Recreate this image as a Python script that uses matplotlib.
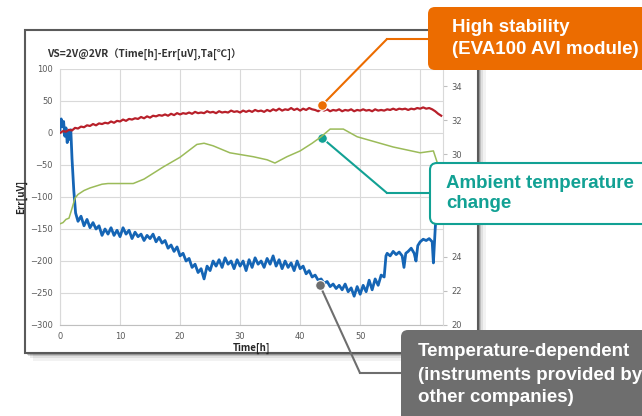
import numpy as np
import matplotlib
matplotlib.use("Agg")
import matplotlib.pyplot as plt
from matplotlib.patches import FancyBboxPatch, Rectangle
from matplotlib.lines import Line2D

W, H = 642, 416

# --- data ----------------------------------------------------------------
# temperature-dependent instrument (blue), Err[uV]
blue_t = [0.0, 0.2, 0.4, 0.6, 0.8, 1.0, 1.2, 1.4, 1.6, 1.8, 2.0, 2.3, 2.6, 3.0,
          3.5, 4.0, 4.5, 5.0, 5.5, 6.0, 6.5, 7.0, 7.5, 8.0, 8.5, 9.0, 9.5, 10.0,
          10.5, 11.0, 11.5, 12.0, 12.5, 13.0, 13.5, 14.0, 14.5, 15.0, 15.5, 16.0,
          16.5, 17.0, 17.5, 18.0, 18.5, 19.0, 19.5, 20.0, 20.5, 21.0, 21.5, 22.0,
          22.5, 23.0, 23.5, 24.0, 24.5, 25.0, 25.5, 26.0, 26.5, 27.0, 27.5, 28.0,
          28.5, 29.0, 29.5, 30.0, 30.5, 31.0, 31.5, 32.0, 32.5, 33.0, 33.5, 34.0,
          34.5, 35.0, 35.5, 36.0, 36.5, 37.0, 37.5, 38.0, 38.5, 39.0, 39.5, 40.0,
          40.5, 41.0, 41.5, 42.0, 42.5, 43.0, 43.5, 44.0, 44.5, 45.0, 45.5, 46.0,
          46.5, 47.0, 47.5, 48.0, 48.5, 49.0, 49.5, 50.0, 50.5, 51.0, 51.5, 52.0,
          52.5, 53.0, 53.5, 54.0, 54.3, 54.5, 55.0, 55.5, 56.0, 56.5, 57.0, 57.3,
          57.6, 58.0, 58.5, 59.0, 59.3, 59.6, 60.0, 60.5, 61.0, 61.5, 62.0, 62.2,
          62.5, 62.8]
blue_err = [5, 22, 10, 18, -5, 8, -15, 2, -10, 5, -40, -90, -125, -138,
            -130, -145, -135, -148, -140, -150, -145, -160, -150, -158, -148, -160, -152, -162,
            -148, -158, -152, -165, -155, -162, -158, -168, -160, -165, -158, -170,
            -163, -172, -168, -180, -175, -185, -178, -192, -188, -200, -196, -210,
            -205, -218, -212, -228, -208, -215, -200, -208, -198, -210, -195, -205,
            -200, -212, -198, -208, -200, -215, -198, -210, -195, -205, -200, -210,
            -196, -205, -192, -208, -198, -212, -200, -210, -203, -215, -200, -212,
            -208, -220, -215, -225, -222, -230, -228, -235, -232, -240, -236, -243,
            -238, -245, -236, -248, -242, -255, -240, -252, -238, -248, -230, -245,
            -228, -238, -222, -225, -192, -188, -192, -185, -190, -186, -192, -210,
            -188, -185, -180, -188, -200, -176, -170, -166, -168, -165, -170, -203,
            -150, -110]

# EVA100 AVI module (red), Err[uV]
red_t = [i * 0.5 for i in range(128)]
red_err = [0, 3, 2, 5, 4, 8, 7, 10, 9, 12, 11, 14, 12, 15, 14, 16, 15, 18, 16, 19,
           18, 21, 19, 22, 21, 23, 22, 25, 23, 26, 24, 27, 26, 28, 27, 29, 27, 30, 28, 31,
           29, 31, 30, 32, 30, 33, 31, 32, 31, 34, 32, 33, 31, 34, 32, 33, 32, 35, 33, 34,
           32, 35, 33, 35, 33, 36, 34, 35, 33, 36, 34, 37, 35, 38, 35, 37, 36, 39, 36, 38,
           35, 38, 36, 39, 37, 36, 34, 37, 35, 37, 34, 36, 35, 37, 34, 36, 35, 37, 34, 36,
           35, 37, 35, 36, 34, 37, 35, 36, 35, 37, 36, 38, 36, 38, 37, 38, 36, 38, 37, 39,
           38, 40, 38, 39, 37, 34, 30, 27]

# ambient temperature (green), Ta[degC]
ta_t = [0, 0.5, 1, 1.5, 2, 2.5, 3, 4, 5, 6, 7, 8, 12.2, 14, 17.2, 20, 22.8, 24,
        25.5, 28.3, 32.2, 34.5, 35.8, 37.8, 40, 42, 43.5, 45, 47.2, 49.5, 55.5,
        60, 62.2, 62.8, 63.3]
ta = [25.93, 26.00, 26.19, 26.26, 26.83, 27.43, 27.65, 27.88, 28.03, 28.14,
      28.25, 28.29, 28.29, 28.55, 29.26, 29.83, 30.58, 30.65, 30.50, 30.09,
      29.86, 29.68, 29.49, 29.86, 30.20, 30.65, 31.03, 31.48, 31.48, 31.03,
      30.43, 30.09, 30.20, 29.56, 27.13]

x_ticks = [0, 10, 20, 30, 40, 50, 60]
y_ticks = [-300, -250, -200, -150, -100, -50, 0, 50, 100]
t_ticks = [20, 22, 24, 26, 28, 30, 32, 34]

RED = "#b8202a"
BLUE = "#1565b5"
GREEN = "#9bbb59"
ORANGE = "#ec6c00"
TEAL = "#12a194"
GREY = "#6e6e6e"
TICKC = "#595959"

CJK = ["Noto Sans CJK JP", "DejaVu Sans"]
BOLD = "Liberation Sans"
FS = 13.5


def fx(px):
    return px / W


def fy(py):
    return 1 - py / H


fig = plt.figure(figsize=(W / 100, H / 100), dpi=100)

# chart panel with a soft shadow (below the axes)
for k, a in [(8, 0.05), (5, 0.08), (3, 0.14), (1.5, 0.2)]:
    fig.add_artist(Rectangle(((25 + k) / 100, (H - 353 - k) / 100), 453 / 100, 323 / 100,
                             transform=fig.dpi_scale_trans, facecolor="#000000",
                             alpha=a, edgecolor="none", zorder=-2))
fig.add_artist(Rectangle((25 / 100, (H - 353) / 100), 453 / 100, 323 / 100,
                         transform=fig.dpi_scale_trans, facecolor="white",
                         edgecolor="#5a5a5a", lw=1.5, zorder=-1))

ax = fig.add_axes([fx(60), fy(325), fx(443) - fx(60), fy(69) - fy(325)])
ax.set_facecolor("none")
ax.plot(blue_t, blue_err, color=BLUE, lw=2.0, zorder=3)
ax.plot(red_t, red_err, color=RED, lw=1.6, zorder=3)
ax.set_xlim(0, 63.8)
ax.set_ylim(-300, 100)
ax.set_xticks(x_ticks)
ax.set_yticks(y_ticks)
ax.grid(True, color="#d9d9d9", lw=0.8)
ax.set_axisbelow(True)
for s in ["top", "right"]:
    ax.spines[s].set_visible(False)
ax.spines["left"].set_color("#d9d9d9")
ax.spines["bottom"].set_color("#bfbfbf")
ax.tick_params(length=0, labelsize=6, labelcolor=TICKC, pad=5)
ax.set_xlabel("Time[h]", fontsize=7, fontweight="bold", labelpad=1,
              family=CJK, color="#262626")
ax.set_ylabel("Err[uV]", fontsize=7, fontweight="bold", labelpad=2,
              family=CJK, color="#262626")

ax2 = ax.twinx()
ax2.plot(ta_t, ta, color=GREEN, lw=1.1, zorder=2)
ax2.set_ylim(20, 35)
ax2.set_yticks(t_ticks)
for s in ["top", "left", "bottom"]:
    ax2.spines[s].set_visible(False)
ax2.spines["right"].set_color("#d9d9d9")
ax2.tick_params(length=3, color="#bfbfbf", labelsize=6, labelcolor=TICKC, pad=3)
# labels 26 and 28 sit under the teal callout box in the reference
for v, lab in zip(t_ticks, ax2.get_yticklabels()):
    if v in (26, 28):
        lab.set_visible(False)

fig.text(fx(47), fy(55), "VS=2V@2VR（Time[h]-Err[uV],Ta[℃]）", fontsize=7.4,
         fontweight="bold", family=CJK, color="#333333", va="center")

# callouts: (dot x, dot y in Err units, elbow px, box left px, colour)
callouts = [
    (43.7, 44, (387, 39), 428, ORANGE),
    (43.7, -8, (387, 193), 429, TEAL),
    (43.3, -238, (360, 373), 401, GREY),
]
for hx, hy, (ex, ey), bx, c in callouts:
    ax.annotate("", xy=(hx, hy), xycoords="data", xytext=(fx(ex), fy(ey)),
                textcoords="figure fraction", annotation_clip=False,
                arrowprops=dict(arrowstyle="-", color=c, lw=1.5,
                                shrinkA=0, shrinkB=0), zorder=9)
    fig.add_artist(Line2D([fx(ex), fx(bx)], [fy(ey), fy(ey)], color=c, lw=1.5,
                          transform=fig.transFigure, zorder=9))
    ax.plot(hx, hy, "o", ms=7, color=c, mec="white", mew=0.8, clip_on=False, zorder=10)

# boxes (inches so corners stay round)
fig.add_artist(FancyBboxPatch((4.28, (H - 70) / 100), 2.6, 0.63,
                              boxstyle="round,pad=0,rounding_size=0.07",
                              transform=fig.dpi_scale_trans, facecolor=ORANGE,
                              edgecolor="none", zorder=11))
fig.text(fx(452), fy(27), "High stability", fontsize=FS, fontweight="bold",
         family=BOLD, color="white", va="center", zorder=12)
fig.text(fx(452), fy(49), "(EVA100 AVI module)", fontsize=FS, fontweight="bold",
         family=BOLD, color="white", va="center", zorder=12)

fig.add_artist(FancyBboxPatch((4.30, (H - 224) / 100), 2.6, 0.61,
                              boxstyle="round,pad=0,rounding_size=0.07",
                              transform=fig.dpi_scale_trans, facecolor="white",
                              edgecolor=TEAL, lw=1.5, zorder=11))
fig.text(fx(446), fy(183), "Ambient temperature", fontsize=FS, fontweight="bold",
         family=BOLD, color=TEAL, va="center", zorder=12)
fig.text(fx(446), fy(204), "change", fontsize=FS, fontweight="bold",
         family=BOLD, color=TEAL, va="center", zorder=12)

fig.add_artist(FancyBboxPatch((4.01, -0.2), 2.8, (H - 330) / 100 + 0.2,
                              boxstyle="round,pad=0,rounding_size=0.07",
                              transform=fig.dpi_scale_trans, facecolor=GREY,
                              edgecolor="none", zorder=11))
for yy, s in [(352, "Temperature-dependent"), (375, "(instruments provided by"),
              (398, "other companies)")]:
    fig.text(fx(418), fy(yy), s, fontsize=FS, fontweight="bold",
             family=BOLD, color="white", va="center", zorder=12)

fig.savefig("out.png", dpi=100)
